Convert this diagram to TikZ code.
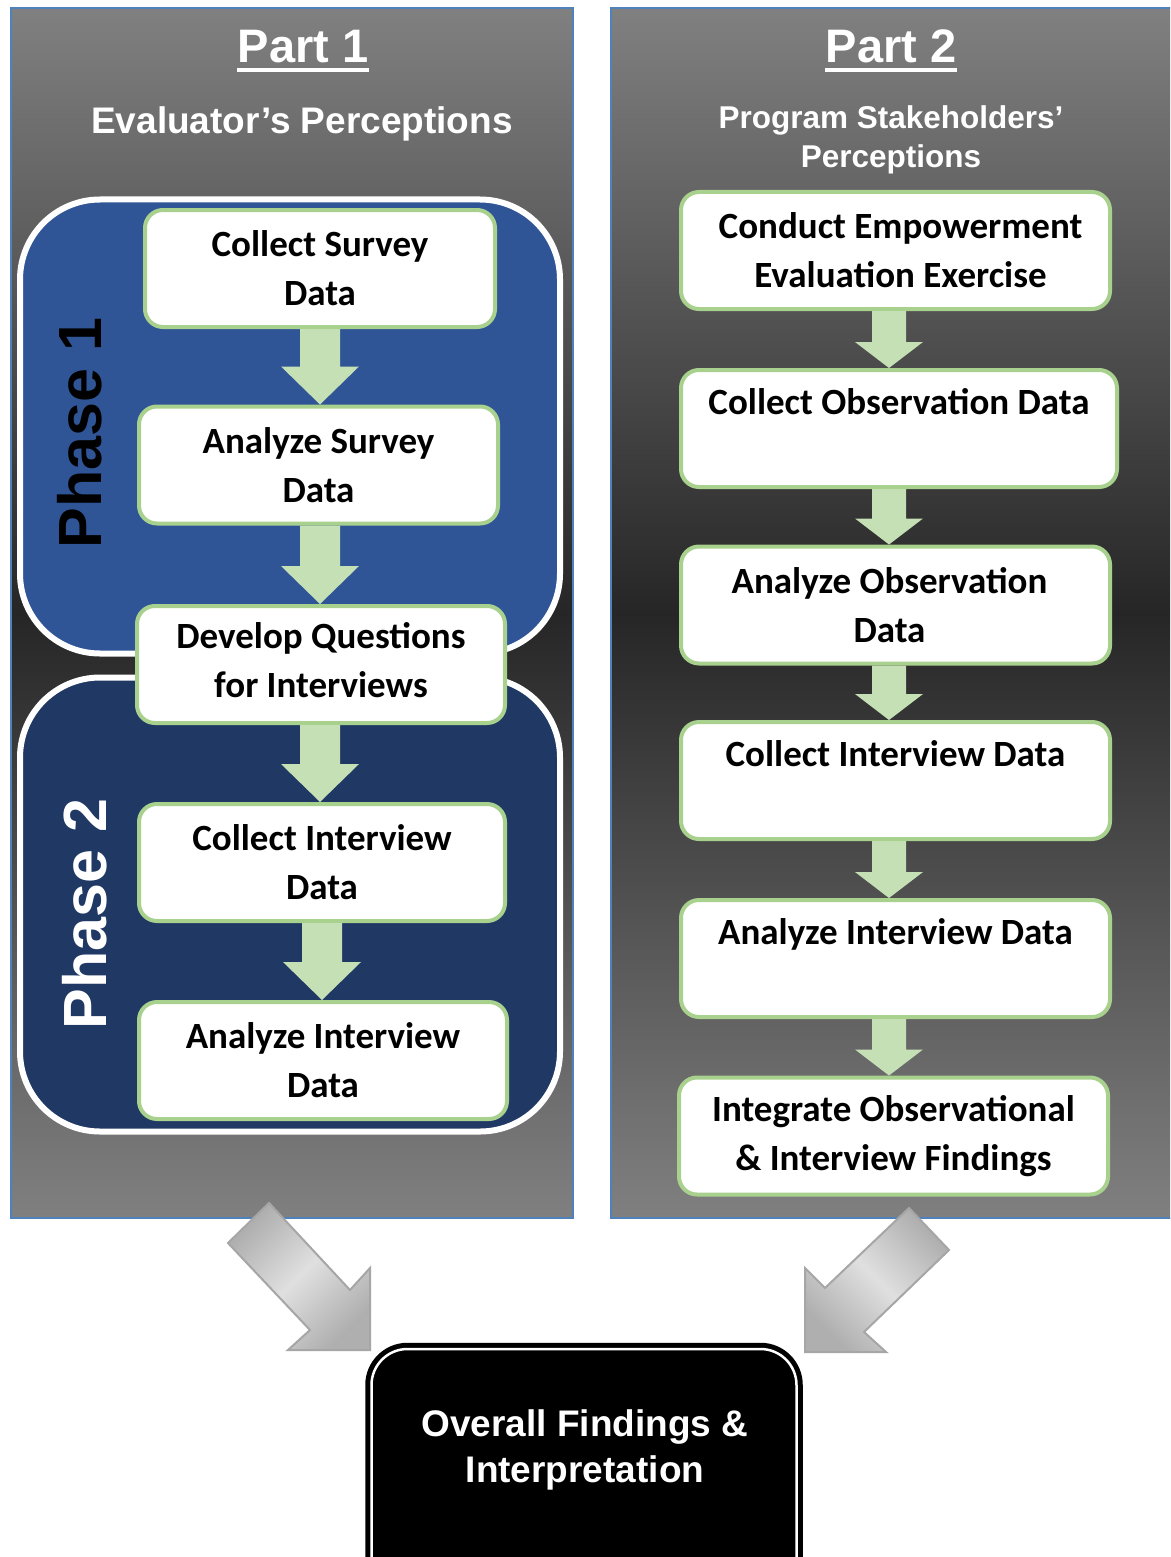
\documentclass[tikz,border=0pt]{standalone}
\usepackage{fontspec}
\setmainfont{Carlito}
\newfontfamily\arialf{Liberation Sans}
\usetikzlibrary{calc}
\definecolor{panelborder}{HTML}{4F81BD}
\definecolor{panelgray}{HTML}{808080}
\definecolor{paneldark}{HTML}{262626}
\definecolor{phaseone}{HTML}{2F5597}
\definecolor{phasetwo}{HTML}{203864}
\definecolor{boxgreen}{HTML}{A9D18E}
\definecolor{arrgreen}{HTML}{C5E0B4}
\definecolor{bigarrfill}{HTML}{D2D2D2}
\definecolor{bigarrline}{HTML}{A6A6A6}
\newcommand\boxfont{\fontsize{37pt}{49pt}\selectfont\bfseries}
\newcommand\blockarr[6]{%
  \fill[arrgreen] let \p1=(#1.south), \p2=(#2.north) in
    ({\x1+(#3pt)-#4pt},\y1) -- ({\x1+(#3pt)+#4pt},\y1) --
    ({\x1+(#3pt)+#4pt},{\y2+#6pt}) -- ({\x1+(#3pt)+#5pt},{\y2+#6pt}) --
    ({\x1+(#3pt)},\y2) -- ({\x1+(#3pt)-#5pt},{\y2+#6pt}) --
    ({\x1+(#3pt)-#4pt},{\y2+#6pt}) -- cycle;}
\begin{document}
\begin{tikzpicture}[x=1pt,y=-1pt,
  panel/.style={draw=panelborder, line width=2pt, top color=panelgray,
    bottom color=panelgray, middle color=paneldark, inner sep=0pt,
    anchor=north west, minimum height=1210pt},
  phasebox/.style={draw=white, line width=6pt, rounded corners=80pt,
    minimum width=540pt, minimum height=454pt, inner sep=0pt},
  stepbox/.style={draw=boxgreen, line width=4pt, fill=white,
    rounded corners=18pt, minimum height=117pt, align=center,
    font=\boxfont, inner sep=2pt},
  parttitle/.style={text=white, font=\arialf\bfseries\fontsize{47pt}{56pt}\selectfont,
    inner sep=0pt, anchor=base},
  subtitle/.style={text=white, align=center, inner sep=0pt},
  phaselabel/.style={rotate=90, font=\arialf\bfseries\fontsize{61pt}{70pt}\selectfont,
    inner sep=0pt},
  bigarrow/.style={draw=bigarrline, line width=2pt, line join=miter}
]
\useasboundingbox (0,0) rectangle (1170,1557);
\clip (0,0) rectangle (1170,1557);
\fill[white] (0,0) rectangle (1170,1557);

% panels
\node[panel, minimum width=562pt] (part1) at (10,7) {};
\node[panel, minimum width=580pt] (part2) at (610,7) {};

% titles
\node[parttitle] (p1t) at (303,63) {Part 1};
\draw[white, line width=4.5pt] ([yshift=-7pt]p1t.base west) -- ([yshift=-7pt]p1t.base east);
\node[parttitle] (p2t) at (891,63) {Part 2};
\draw[white, line width=4.5pt] ([yshift=-7pt]p2t.base west) -- ([yshift=-7pt]p2t.base east);
\node[subtitle, anchor=base, font=\arialf\bfseries\fontsize{37pt}{44pt}\selectfont] (s1) at (302,134) {Evaluator’s Perceptions};
\node[subtitle, anchor=base, font=\arialf\bfseries\fontsize{31.5pt}{39.5pt}\selectfont] (s2) at (891,168) {Program Stakeholders’\\Perceptions};

% phases
\node[phasebox, fill=phaseone] (ph1) at (290,426.5) {};
\node[phasebox, fill=phasetwo] (ph2) at (290,904.5) {};
\node[phaselabel, text=black] (ph1l) at (80,433) {Phase 1};
\node[phaselabel, text=white] (ph2l) at (85,914) {Phase 2};

% left steps
\node[stepbox, minimum width=350pt] (cs) at (320,268.5) {Collect Survey\\Data};
\node[stepbox, minimum width=359pt] (as) at (318.5,465) {Analyze Survey\\Data};
\node[stepbox, minimum width=368pt] (dq) at (321,664.5) {\raisebox{0pt}[\height][\depth]{Develop Questions}\\for Interviews\vspace*{8pt}};
\node[stepbox, minimum width=366pt] (ci) at (322,862.5) {Collect Interview\\Data};
\node[stepbox, minimum width=368pt] (ai) at (323,1060.5) {Analyze Interview\\Data};

% right steps
\node[stepbox, minimum width=429pt] (ce) at (895.5,250.5) {\hspace*{10pt}Conduct Empowerment\\\hspace*{10pt}Evaluation Exercise};
\node[stepbox, minimum width=436pt] (co) at (899,428.5) {Collect Observation Data\\[6pt]~};
\node[stepbox, minimum width=429pt] (ao) at (895.5,605) {\hspace*{-12pt}Analyze Observation\\\hspace*{-12pt}Data};
\node[stepbox, minimum width=429pt] (cj) at (895.5,780.5) {Collect Interview Data\\[4pt]~};
\node[stepbox, minimum width=429pt] (aj) at (895.5,958.5) {Analyze Interview Data\\[4pt]~};
\node[stepbox, minimum width=429pt] (io) at (893.5,1136) {Integrate Observational\\\& Interview Findings};

% green arrows
\blockarr{cs}{as}{0}{20}{39}{38}
\blockarr{as}{dq}{1.5}{20}{39}{38}
\blockarr{dq}{ci}{-1}{20}{39}{38}
\blockarr{ci}{ai}{0}{20}{39}{38}
\blockarr{ce}{co}{-6.5}{17}{34}{26}
\blockarr{co}{ao}{-10}{17}{34}{26}
\blockarr{ao}{cj}{-6.5}{17}{34}{26}
\blockarr{cj}{aj}{-6.5}{17}{34}{26}
\blockarr{aj}{io}{-6.5}{17}{34}{26}

% final box
\node[draw=black, line width=5pt, double=white, double distance=2.5pt, fill=black,
  rounded corners=36pt, minimum width=425pt, minimum height=250pt, anchor=north,
  inner sep=0pt] (fin) at (584,1346.5) {};
\node[text=white, align=center, inner sep=0pt,
  font=\arialf\bfseries\fontsize{37pt}{46pt}\selectfont] (fint) at (585,1450) {Overall Findings \&\\Interpretation};

% big gray arrows
\draw[bigarrow, left color=bigarrline!90, right color=bigarrline!90, middle color=bigarrfill!70!white, shading angle=45]
  (269,1203) -- (350,1290) -- (370,1268) -- (370,1350) -- (288,1350) -- (310,1330) -- (228,1243) -- cycle;
\draw[bigarrow, left color=bigarrline!90, right color=bigarrline!90, middle color=bigarrfill!70!white, shading angle=-45]
  (909,1208) -- (825,1288) -- (805,1268) -- (805,1352) -- (886,1352) -- (864,1332) -- (949,1250) -- cycle;
\end{tikzpicture}
\end{document}
